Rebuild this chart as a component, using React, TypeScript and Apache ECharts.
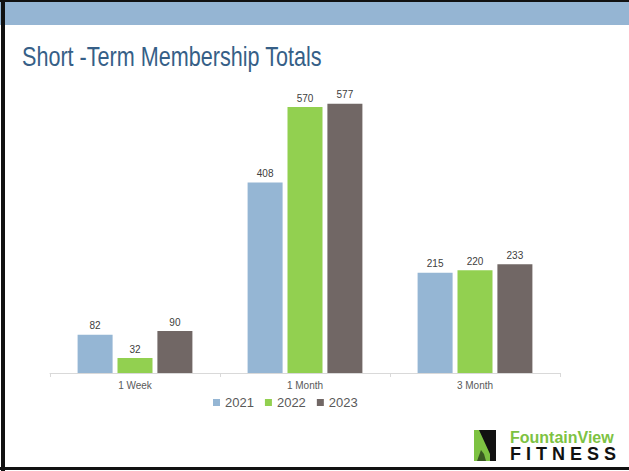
import React, { useEffect, useRef } from "react";
import * as echarts from "echarts";

const categories = ["1 Week", "1 Month", "3 Month"];
const seriesNames = ["2021", "2022", "2023"];
const values2021 = [82, 408, 215];
const values2022 = [32, 570, 220];
const values2023 = [90, 577, 233];
const seriesColors = ["#95b6d4", "#92d050", "#716765"];

const FONT = "'Liberation Sans', Arial, sans-serif";

export default function App() {
  const ref = useRef<HTMLDivElement>(null);
  useEffect(() => {
    if (!ref.current) return;
    const chart = echarts.init(ref.current, null, { renderer: "svg" });
    const data = [values2021, values2022, values2023];
    chart.setOption({
      animation: false,
      backgroundColor: "#ffffff",
      textStyle: { fontFamily: FONT },
      grid: { left: 50, right: 69, top: 93, bottom: 98 },
      xAxis: {
        type: "category",
        data: categories,
        axisLine: { lineStyle: { color: "#d9d9d9", width: 1 } },
        axisTick: { show: true, length: 4, lineStyle: { color: "#d9d9d9" } },
        axisLabel: { color: "#595959", fontSize: 10, margin: 7, fontFamily: FONT },
      },
      yAxis: {
        type: "value",
        min: 0,
        max: 600,
        show: false,
        splitLine: { show: false },
      },
      legend: {
        data: seriesNames,
        left: 208,
        top: 391,
        icon: "rect",
        itemWidth: 7,
        itemHeight: 7,
        itemGap: 11,
        textStyle: { color: "#595959", fontSize: 13, fontFamily: FONT },
      },
      series: seriesNames.map((name, i) => ({
        name,
        type: "bar",
        data: data[i],
        barWidth: 35,
        barGap: "14%",
        itemStyle: { color: seriesColors[i] },
        label: {
          show: true,
          position: "top",
          distance: 4,
          color: "#404040",
          fontSize: 10,
          fontFamily: FONT,
        },
      })),
      graphic: [
        { type: "rect", shape: { x: 0, y: 0, width: 629, height: 25 }, style: { fill: "#95b5d3" } },
        { type: "rect", shape: { x: 0, y: 0, width: 629, height: 2 }, style: { fill: "#111111" } },
        { type: "rect", shape: { x: 1, y: 0, width: 4, height: 471 }, style: { fill: "#111111" } },
        { type: "rect", shape: { x: 0, y: 467, width: 629, height: 3 }, style: { fill: "#111111" } },
        {
          type: "text",
          x: 22,
          y: 57,
          scaleX: 0.8,
          style: {
            text: "Short -Term Membership Totals",
            fill: "#365f87",
            fontSize: 27,
            fontFamily: FONT,
            verticalAlign: "middle",
            align: "left",
          },
        },
        // logo icon
        { type: "rect", shape: { x: 474, y: 430, width: 22, height: 31 }, style: { fill: "#7dc242" } },
        {
          type: "polygon",
          shape: { points: [[479, 430], [496, 430], [496, 461], [490, 461], [490, 454]] },
          style: { fill: "#111111" },
        },
        {
          type: "polygon",
          shape: { points: [[477, 461], [481, 450], [484, 454], [486, 461]] },
          style: { fill: "#3a5a22" },
        },
        {
          type: "text",
          x: 510,
          y: 437,
          style: {
            text: "FountainView",
            fill: "#7dc242",
            fontSize: 16,
            fontWeight: "bold",
            fontFamily: FONT,
            verticalAlign: "middle",
          },
        },
        {
          type: "text",
          x: 510,
          y: 454,
          style: {
            text: "F I T N E S S",
            fill: "#111111",
            fontSize: 18,
            fontWeight: "bold",
            fontFamily: FONT,
            verticalAlign: "middle",
          },
        },
      ],
    });
    return () => chart.dispose();
  }, []);
  return (
    <div
      ref={ref}
      style={{ position: "absolute", left: 0, top: 0, width: 629, height: 471 }}
    />
  );
}
